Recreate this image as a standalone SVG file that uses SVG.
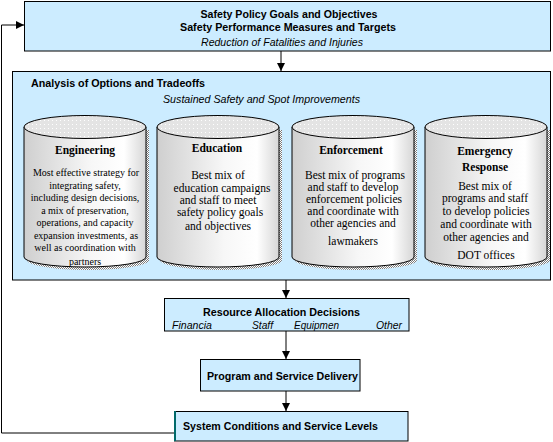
<svg xmlns="http://www.w3.org/2000/svg" width="553" height="442" viewBox="0 0 553 442">
<style>
.box{fill:#ccecff;stroke:#000;stroke-width:1}
.conn{fill:none;stroke:#000;stroke-width:1}
.hb{font-family:"Liberation Sans",Arial,sans-serif;font-weight:bold;font-size:10.5px;fill:#000}
.hi{font-family:"Liberation Sans",Arial,sans-serif;font-style:italic;font-size:10px;fill:#000}
.ct{font-family:"Liberation Serif","Times New Roman",serif;font-weight:bold;font-size:11.5px;fill:#000;text-anchor:middle}
.cb{font-family:"Liberation Serif","Times New Roman",serif;font-size:11.5px;fill:#000;text-anchor:middle}
.cs{font-family:"Liberation Serif","Times New Roman",serif;font-size:10px;fill:#000;text-anchor:middle}
.body{fill:url(#cylGrad);stroke:#000;stroke-width:1}
.shadow{fill:url(#hatch);stroke:none}
.lid{fill:url(#dots);stroke:#000;stroke-width:1}
</style>
<defs>
<linearGradient id="cylGrad" x1="0" y1="0" x2="1" y2="0">
<stop offset="0" stop-color="#cfcfcf"/>
<stop offset="0.55" stop-color="#f7f7f7"/>
<stop offset="0.82" stop-color="#ffffff"/>
<stop offset="1" stop-color="#d6d6d6"/>
</linearGradient>
<pattern id="hatch" width="2" height="2" patternUnits="userSpaceOnUse">
<rect width="2" height="2" fill="#ffffff"/>
<rect width="1" height="1" fill="#7a7a7a"/>
<rect x="1" y="1" width="1" height="1" fill="#7a7a7a"/>
</pattern>
<pattern id="dots" width="4" height="4" patternUnits="userSpaceOnUse">
<rect width="4" height="4" fill="#e4e4e4"/>
<rect width="1" height="1" fill="#ffffff"/>
</pattern>
<marker id="arr" markerWidth="8" markerHeight="10" refX="8" refY="4" orient="auto" markerUnits="userSpaceOnUse">
<path d="M0,0 L8,4 L0,8 Z" fill="#000"/>
</marker>
<path id="cylShadow" d="M3,130 V260 A61 10 0 0 0 125,260 V130 Z"/>
<path id="cylBody" d="M0,127 V257 A61 10 0 0 0 122,257 V127 Z"/>
<ellipse id="cylLid" cx="61" cy="127" rx="61" ry="11.5"/>
</defs>

<g id="connectors">
<line class="conn" x1="281" y1="51" x2="281" y2="71" marker-end="url(#arr)"/>
<line class="conn" x1="286" y1="280" x2="286" y2="298" marker-end="url(#arr)"/>
<line class="conn" x1="286" y1="331" x2="286" y2="359" marker-end="url(#arr)"/>
<line class="conn" x1="286" y1="391" x2="286" y2="411" marker-end="url(#arr)"/>
<polyline class="conn" points="174,433 1.5,433 1.5,25 24,25" marker-end="url(#arr)"/>
</g>

<g id="goals">
<rect class="box" x="24.5" y="1.5" width="526" height="49.5"/>
<text class="hb" x="289" y="18" text-anchor="middle" textLength="177" lengthAdjust="spacingAndGlyphs">Safety Policy Goals and Objectives</text>
<text class="hb" x="288" y="31" text-anchor="middle" textLength="216" lengthAdjust="spacingAndGlyphs">Safety Performance Measures and Targets</text>
<text class="hi" x="282" y="46" text-anchor="middle" textLength="162" lengthAdjust="spacingAndGlyphs">Reduction of Fatalities and Injuries</text>
</g>

<g id="analysis">
<rect class="box" x="12.5" y="71.5" width="538" height="208.5"/>
<text class="hb" x="31" y="87" textLength="174" lengthAdjust="spacingAndGlyphs">Analysis of Options and Tradeoffs</text>
<text class="hi" x="163" y="103" textLength="197" lengthAdjust="spacingAndGlyphs">Sustained Safety and Spot Improvements</text>
</g>

<g id="engineering" transform="translate(24,0)">
<use href="#cylShadow" class="shadow"/>
<use href="#cylBody" class="body"/>
<use href="#cylLid" class="lid"/>
<text class="ct" x="61" y="154">Engineering</text>
<text class="cs" x="62" y="176">Most effective strategy for</text>
<text class="cs" x="61" y="189">integrating safety,</text>
<text class="cs" x="61" y="201">including design decisions,</text>
<text class="cs" x="61" y="214">a mix of preservation,</text>
<text class="cs" x="61" y="226">operations, and capacity</text>
<text class="cs" x="62" y="239">expansion investments, as</text>
<text class="cs" x="61" y="251">well as coordination with</text>
<text class="cs" x="61" y="265">partners</text>
</g>

<g id="education" transform="translate(157,0)">
<use href="#cylShadow" class="shadow"/>
<use href="#cylBody" class="body"/>
<use href="#cylLid" class="lid"/>
<text class="ct" x="60" y="152">Education</text>
<text class="cb" x="61" y="179">Best mix of</text>
<text class="cb" x="65" y="192">education campaigns</text>
<text class="cb" x="61" y="204">and staff to meet</text>
<text class="cb" x="63" y="216">safety policy goals</text>
<text class="cb" x="61" y="230">and objectives</text>
</g>

<g id="enforcement" transform="translate(292,0)">
<use href="#cylShadow" class="shadow"/>
<use href="#cylBody" class="body"/>
<use href="#cylLid" class="lid"/>
<text class="ct" x="59" y="154">Enforcement</text>
<text class="cb" x="63" y="179">Best mix of programs</text>
<text class="cb" x="61" y="191">and staff to develop</text>
<text class="cb" x="62" y="203">enforcement policies</text>
<text class="cb" x="61" y="215">and coordinate with</text>
<text class="cb" x="61" y="227">other agencies and</text>
<text class="cb" x="61" y="245">lawmakers</text>
</g>

<g id="emergency" transform="translate(425,0)">
<use href="#cylShadow" class="shadow"/>
<use href="#cylBody" class="body"/>
<use href="#cylLid" class="lid"/>
<text class="ct" x="60" y="155">Emergency</text>
<text class="ct" x="60" y="171">Response</text>
<text class="cb" x="60" y="190">Best mix of</text>
<text class="cb" x="60" y="202">programs and staff</text>
<text class="cb" x="61" y="215">to develop policies</text>
<text class="cb" x="61" y="228">and coordinate with</text>
<text class="cb" x="61" y="241">other agencies and</text>
<text class="cb" x="61" y="259">DOT offices</text>
</g>

<g id="resource">
<rect class="box" x="164.5" y="298.5" width="244.5" height="32.5"/>
<text class="hb" x="203" y="316" textLength="157" lengthAdjust="spacingAndGlyphs">Resource Allocation Decisions</text>
<text class="hi" x="172" y="329" textLength="40" lengthAdjust="spacingAndGlyphs">Financia</text>
<text class="hi" x="252" y="329" textLength="21" lengthAdjust="spacingAndGlyphs">Staff</text>
<text class="hi" x="294" y="329" textLength="45" lengthAdjust="spacingAndGlyphs">Equipmen</text>
<text class="hi" x="376" y="329" textLength="26" lengthAdjust="spacingAndGlyphs">Other</text>
</g>

<g id="program">
<rect class="box" x="200.5" y="359.5" width="159.5" height="31.5"/>
<text class="hb" x="207" y="380" textLength="151" lengthAdjust="spacingAndGlyphs">Program and Service Delivery</text>
</g>

<g id="system">
<rect class="box" x="174.5" y="411.5" width="233.5" height="29.5"/>
<line x1="175" y1="411" x2="175" y2="441" stroke="#006a6a" stroke-width="2"/>
<text class="hb" x="183" y="430" textLength="195" lengthAdjust="spacingAndGlyphs">System Conditions and Service Levels</text>
</g>
</svg>
